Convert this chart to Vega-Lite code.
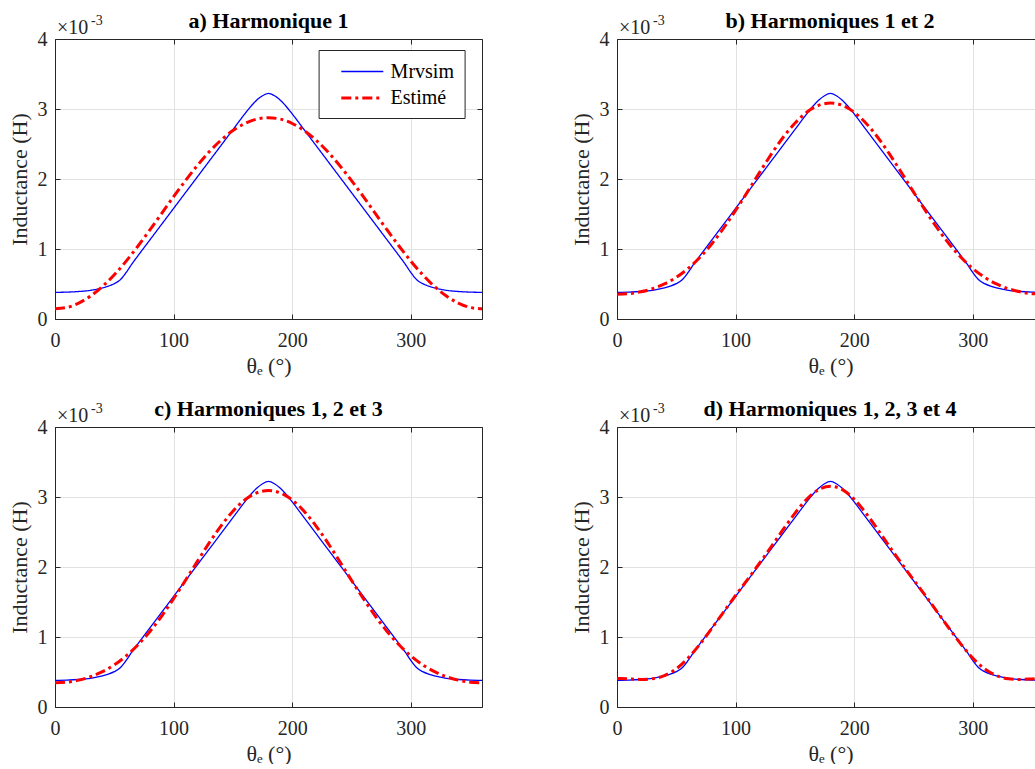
{
  "$schema": "https://vega.github.io/schema/vega-lite/v6.json",
  "autosize": {"type": "pad"},
  "padding": {"left": 8, "top": 10, "right": 0, "bottom": 0},
  "background": "#ffffff",
  "datasets": {
    "mrvsim": [
      {"theta": 0, "L": 0.381}, {"theta": 10, "L": 0.384}, {"theta": 20, "L": 0.393}, {"theta": 30, "L": 0.41},
      {"theta": 40, "L": 0.445}, {"theta": 45, "L": 0.47}, {"theta": 50, "L": 0.505}, {"theta": 55, "L": 0.56},
      {"theta": 60, "L": 0.665}, {"theta": 65, "L": 0.79}, {"theta": 70, "L": 0.905}, {"theta": 80, "L": 1.13},
      {"theta": 90, "L": 1.355}, {"theta": 100, "L": 1.58}, {"theta": 110, "L": 1.805}, {"theta": 120, "L": 2.03},
      {"theta": 130, "L": 2.255}, {"theta": 140, "L": 2.48}, {"theta": 150, "L": 2.705}, {"theta": 160, "L": 2.93},
      {"theta": 165, "L": 3.035}, {"theta": 170, "L": 3.125}, {"theta": 175, "L": 3.19}, {"theta": 180, "L": 3.222},
      {"theta": 185, "L": 3.19}, {"theta": 190, "L": 3.125}, {"theta": 195, "L": 3.035}, {"theta": 200, "L": 2.93},
      {"theta": 210, "L": 2.705}, {"theta": 220, "L": 2.48}, {"theta": 230, "L": 2.255}, {"theta": 240, "L": 2.03},
      {"theta": 250, "L": 1.805}, {"theta": 260, "L": 1.58}, {"theta": 270, "L": 1.355}, {"theta": 280, "L": 1.13},
      {"theta": 290, "L": 0.905}, {"theta": 295, "L": 0.79}, {"theta": 300, "L": 0.665}, {"theta": 305, "L": 0.56},
      {"theta": 310, "L": 0.505}, {"theta": 315, "L": 0.47}, {"theta": 320, "L": 0.445}, {"theta": 330, "L": 0.41},
      {"theta": 340, "L": 0.393}, {"theta": 350, "L": 0.384}, {"theta": 360, "L": 0.381}
    ],
    "estime": [
      {"theta": 0, "a": 0.145, "b": 0.355, "c": 0.347, "d": 0.407},
      {"theta": 10, "a": 0.165, "b": 0.362, "c": 0.355, "d": 0.401},
      {"theta": 20, "a": 0.227, "b": 0.388, "c": 0.384, "d": 0.394},
      {"theta": 30, "a": 0.328, "b": 0.433, "c": 0.433, "d": 0.403},
      {"theta": 40, "a": 0.464, "b": 0.501, "c": 0.505, "d": 0.449},
      {"theta": 50, "a": 0.632, "b": 0.595, "c": 0.602, "d": 0.546},
      {"theta": 60, "a": 0.827, "b": 0.722, "c": 0.73, "d": 0.7},
      {"theta": 70, "a": 1.043, "b": 0.882, "c": 0.889, "d": 0.899},
      {"theta": 80, "a": 1.272, "b": 1.075, "c": 1.079, "d": 1.125},
      {"theta": 90, "a": 1.51, "b": 1.3, "c": 1.3, "d": 1.36},
      {"theta": 100, "a": 1.748, "b": 1.551, "c": 1.547, "d": 1.593},
      {"theta": 110, "a": 1.977, "b": 1.816, "c": 1.809, "d": 1.819},
      {"theta": 120, "a": 2.193, "b": 2.088, "c": 2.08, "d": 2.05},
      {"theta": 130, "a": 2.388, "b": 2.351, "c": 2.344, "d": 2.288},
      {"theta": 140, "a": 2.556, "b": 2.593, "c": 2.589, "d": 2.533},
      {"theta": 150, "a": 2.692, "b": 2.797, "c": 2.797, "d": 2.767},
      {"theta": 160, "a": 2.793, "b": 2.954, "c": 2.958, "d": 2.968},
      {"theta": 170, "a": 2.855, "b": 3.052, "c": 3.059, "d": 3.105},
      {"theta": 180, "a": 2.875, "b": 3.085, "c": 3.093, "d": 3.153},
      {"theta": 190, "a": 2.855, "b": 3.052, "c": 3.059, "d": 3.105},
      {"theta": 200, "a": 2.793, "b": 2.954, "c": 2.958, "d": 2.968},
      {"theta": 210, "a": 2.692, "b": 2.797, "c": 2.797, "d": 2.767},
      {"theta": 220, "a": 2.556, "b": 2.593, "c": 2.589, "d": 2.533},
      {"theta": 230, "a": 2.388, "b": 2.351, "c": 2.344, "d": 2.288},
      {"theta": 240, "a": 2.193, "b": 2.088, "c": 2.08, "d": 2.05},
      {"theta": 250, "a": 1.977, "b": 1.816, "c": 1.809, "d": 1.819},
      {"theta": 260, "a": 1.748, "b": 1.551, "c": 1.547, "d": 1.593},
      {"theta": 270, "a": 1.51, "b": 1.3, "c": 1.3, "d": 1.36},
      {"theta": 280, "a": 1.272, "b": 1.075, "c": 1.079, "d": 1.125},
      {"theta": 290, "a": 1.043, "b": 0.882, "c": 0.889, "d": 0.899},
      {"theta": 300, "a": 0.827, "b": 0.722, "c": 0.73, "d": 0.7},
      {"theta": 310, "a": 0.632, "b": 0.595, "c": 0.602, "d": 0.546},
      {"theta": 320, "a": 0.464, "b": 0.501, "c": 0.505, "d": 0.449},
      {"theta": 330, "a": 0.328, "b": 0.433, "c": 0.433, "d": 0.403},
      {"theta": 340, "a": 0.227, "b": 0.388, "c": 0.384, "d": 0.394},
      {"theta": 350, "a": 0.165, "b": 0.362, "c": 0.355, "d": 0.401},
      {"theta": 360, "a": 0.145, "b": 0.355, "c": 0.347, "d": 0.407}
    ]
  },
  "columns": 2,
  "spacing": {"row": 108, "column": 135},
  "bounds": "flush",
  "resolve": {"scale": {"color": "independent", "strokeDash": "independent", "strokeWidth": "independent"}},
  "concat": [
    {
      "width": 427, "height": 280,
      "title": {"text": "a) Harmonique 1"},
      "resolve": {"axis": {"x": "independent", "y": "independent"}},
      "layer": [
        {
          "data": {"name": "mrvsim"},
          "mark": {"type": "line", "interpolate": "monotone"},
          "encoding": {
            "x": {"field": "theta", "type": "quantitative", "scale": {"domain": [0, 360], "nice": false},
                  "axis": {"orient": "bottom", "values": [0, 100, 200, 300], "grid": true, "labelFlush": false, "title": "θₑ (°)", "labelPadding": 16, "titlePadding": 5}},
            "y": {"field": "L", "type": "quantitative", "scale": {"domain": [0, 4], "nice": false},
                  "axis": {"orient": "left", "values": [0, 1, 2, 3, 4], "grid": true, "title": "Inductance (H)", "labelPadding": 13, "titlePadding": 6}},
            "color": {"datum": "Mrvsim", "type": "nominal", "scale": {"domain": ["Mrvsim", "Estimé"], "range": ["#0000ff", "#ff0000"]},
                      "legend": {"orient": "none", "legendX": 263.6, "legendY": 11, "title": null, "symbolType": "M-2,0L2,0", "symbolSize": 441,
                                 "symbolOffset": 21.7, "labelOffset": 16.3, "labelFont": "Liberation Serif", "labelFontSize": 20, "labelColor": "#000000",
                                 "fillColor": "#ffffff", "strokeColor": "#262626", "padding": 10, "rowPadding": 4}},
            "strokeDash": {"datum": "Mrvsim", "type": "nominal", "scale": {"domain": ["Mrvsim", "Estimé"], "range": [[1, 0], [10, 4, 3, 4]]}},
            "strokeWidth": {"datum": "Mrvsim", "type": "ordinal", "scale": {"domain": ["Mrvsim", "Estimé"], "range": [1.3, 3]}}
          }
        },
        {
          "data": {"name": "estime"},
          "mark": {"type": "line", "interpolate": "natural"},
          "encoding": {
            "x": {"field": "theta", "type": "quantitative", "scale": {"domain": [0, 360], "nice": false},
                  "axis": {"orient": "top", "values": [0, 100, 200, 300], "grid": false, "labels": false, "title": null}},
            "y": {"field": "a", "type": "quantitative", "scale": {"domain": [0, 4], "nice": false},
                  "axis": {"orient": "right", "values": [0, 1, 2, 3, 4], "grid": false, "labels": false, "title": null}},
            "color": {"datum": "Estimé", "type": "nominal"},
            "strokeDash": {"datum": "Estimé", "type": "nominal"},
            "strokeWidth": {"datum": "Estimé", "type": "ordinal"}
          }
        },
        {
          "data": {"values": [{}]},
          "mark": {"type": "text", "align": "left", "baseline": "alphabetic", "fontSize": 20, "font": "Liberation Serif", "color": "#262626", "dx": 2, "dy": -5},
          "encoding": {
            "x": {"datum": 0, "type": "quantitative", "scale": {"domain": [0, 360], "nice": false}, "axis": null},
            "y": {"datum": 4, "type": "quantitative", "scale": {"domain": [0, 4], "nice": false}, "axis": null},
            "text": {"value": "×10"}
          }
        },
        {
          "data": {"values": [{}]},
          "mark": {"type": "text", "align": "left", "baseline": "alphabetic", "fontSize": 14, "font": "Liberation Serif", "color": "#262626", "dx": 36, "dy": -14},
          "encoding": {
            "x": {"datum": 0, "type": "quantitative", "scale": {"domain": [0, 360], "nice": false}, "axis": null},
            "y": {"datum": 4, "type": "quantitative", "scale": {"domain": [0, 4], "nice": false}, "axis": null},
            "text": {"value": "-3"}
          }
        }
      ]
    },
    {
      "width": 418, "height": 280,
      "title": {"text": "b) Harmoniques 1 et 2", "dx": 4},
      "resolve": {"axis": {"x": "independent", "y": "independent"}},
      "layer": [
        {
          "data": {"name": "mrvsim"},
          "mark": {"type": "line", "interpolate": "monotone", "color": "#0000ff", "strokeWidth": 1.3, "clip": true},
          "encoding": {
            "x": {"field": "theta", "type": "quantitative", "scale": {"domain": [0, 352.5], "nice": false},
                  "axis": {"orient": "bottom", "values": [0, 100, 200, 300], "grid": true, "labelFlush": false, "title": "θₑ (°)", "labelPadding": 16, "titlePadding": 5, "titleX": 213.5}},
            "y": {"field": "L", "type": "quantitative", "scale": {"domain": [0, 4], "nice": false},
                  "axis": {"orient": "left", "values": [0, 1, 2, 3, 4], "grid": true, "title": "Inductance (H)", "labelPadding": 13, "titlePadding": 6}}
          }
        },
        {
          "data": {"name": "estime"},
          "mark": {"type": "line", "interpolate": "natural", "color": "#ff0000", "strokeWidth": 3, "strokeDash": [10, 4, 3, 4], "clip": true},
          "encoding": {
            "x": {"field": "theta", "type": "quantitative", "scale": {"domain": [0, 352.5], "nice": false},
                  "axis": {"orient": "top", "values": [0, 100, 200, 300], "grid": false, "labels": false, "title": null}},
            "y": {"field": "b", "type": "quantitative", "scale": {"domain": [0, 4], "nice": false}, "axis": null}
          }
        },
        {
          "data": {"values": [{}]},
          "mark": {"type": "text", "align": "left", "baseline": "alphabetic", "fontSize": 20, "font": "Liberation Serif", "color": "#262626", "dx": 2, "dy": -5},
          "encoding": {
            "x": {"datum": 0, "type": "quantitative", "scale": {"domain": [0, 352.5], "nice": false}, "axis": null},
            "y": {"datum": 4, "type": "quantitative", "scale": {"domain": [0, 4], "nice": false}, "axis": null},
            "text": {"value": "×10"}
          }
        },
        {
          "data": {"values": [{}]},
          "mark": {"type": "text", "align": "left", "baseline": "alphabetic", "fontSize": 14, "font": "Liberation Serif", "color": "#262626", "dx": 36, "dy": -14},
          "encoding": {
            "x": {"datum": 0, "type": "quantitative", "scale": {"domain": [0, 352.5], "nice": false}, "axis": null},
            "y": {"datum": 4, "type": "quantitative", "scale": {"domain": [0, 4], "nice": false}, "axis": null},
            "text": {"value": "-3"}
          }
        }
      ]
    },
    {
      "width": 427, "height": 280,
      "title": {"text": "c) Harmoniques 1, 2 et 3"},
      "resolve": {"axis": {"x": "independent", "y": "independent"}},
      "layer": [
        {
          "data": {"name": "mrvsim"},
          "mark": {"type": "line", "interpolate": "monotone", "color": "#0000ff", "strokeWidth": 1.3},
          "encoding": {
            "x": {"field": "theta", "type": "quantitative", "scale": {"domain": [0, 360], "nice": false},
                  "axis": {"orient": "bottom", "values": [0, 100, 200, 300], "grid": true, "labelFlush": false, "title": "θₑ (°)", "labelPadding": 16, "titlePadding": 5}},
            "y": {"field": "L", "type": "quantitative", "scale": {"domain": [0, 4], "nice": false},
                  "axis": {"orient": "left", "values": [0, 1, 2, 3, 4], "grid": true, "title": "Inductance (H)", "labelPadding": 13, "titlePadding": 6}}
          }
        },
        {
          "data": {"name": "estime"},
          "mark": {"type": "line", "interpolate": "natural", "color": "#ff0000", "strokeWidth": 3, "strokeDash": [10, 4, 3, 4]},
          "encoding": {
            "x": {"field": "theta", "type": "quantitative", "scale": {"domain": [0, 360], "nice": false},
                  "axis": {"orient": "top", "values": [0, 100, 200, 300], "grid": false, "labels": false, "title": null}},
            "y": {"field": "c", "type": "quantitative", "scale": {"domain": [0, 4], "nice": false},
                  "axis": {"orient": "right", "values": [0, 1, 2, 3, 4], "grid": false, "labels": false, "title": null}}
          }
        },
        {
          "data": {"values": [{}]},
          "mark": {"type": "text", "align": "left", "baseline": "alphabetic", "fontSize": 20, "font": "Liberation Serif", "color": "#262626", "dx": 2, "dy": -5},
          "encoding": {
            "x": {"datum": 0, "type": "quantitative", "scale": {"domain": [0, 360], "nice": false}, "axis": null},
            "y": {"datum": 4, "type": "quantitative", "scale": {"domain": [0, 4], "nice": false}, "axis": null},
            "text": {"value": "×10"}
          }
        },
        {
          "data": {"values": [{}]},
          "mark": {"type": "text", "align": "left", "baseline": "alphabetic", "fontSize": 14, "font": "Liberation Serif", "color": "#262626", "dx": 36, "dy": -14},
          "encoding": {
            "x": {"datum": 0, "type": "quantitative", "scale": {"domain": [0, 360], "nice": false}, "axis": null},
            "y": {"datum": 4, "type": "quantitative", "scale": {"domain": [0, 4], "nice": false}, "axis": null},
            "text": {"value": "-3"}
          }
        }
      ]
    },
    {
      "width": 418, "height": 280,
      "title": {"text": "d) Harmoniques 1, 2, 3 et 4", "dx": 4},
      "resolve": {"axis": {"x": "independent", "y": "independent"}},
      "layer": [
        {
          "data": {"name": "mrvsim"},
          "mark": {"type": "line", "interpolate": "monotone", "color": "#0000ff", "strokeWidth": 1.3, "clip": true},
          "encoding": {
            "x": {"field": "theta", "type": "quantitative", "scale": {"domain": [0, 352.5], "nice": false},
                  "axis": {"orient": "bottom", "values": [0, 100, 200, 300], "grid": true, "labelFlush": false, "title": "θₑ (°)", "labelPadding": 16, "titlePadding": 5, "titleX": 213.5}},
            "y": {"field": "L", "type": "quantitative", "scale": {"domain": [0, 4], "nice": false},
                  "axis": {"orient": "left", "values": [0, 1, 2, 3, 4], "grid": true, "title": "Inductance (H)", "labelPadding": 13, "titlePadding": 6}}
          }
        },
        {
          "data": {"name": "estime"},
          "mark": {"type": "line", "interpolate": "natural", "color": "#ff0000", "strokeWidth": 3, "strokeDash": [10, 4, 3, 4], "clip": true},
          "encoding": {
            "x": {"field": "theta", "type": "quantitative", "scale": {"domain": [0, 352.5], "nice": false},
                  "axis": {"orient": "top", "values": [0, 100, 200, 300], "grid": false, "labels": false, "title": null}},
            "y": {"field": "d", "type": "quantitative", "scale": {"domain": [0, 4], "nice": false}, "axis": null}
          }
        },
        {
          "data": {"values": [{}]},
          "mark": {"type": "text", "align": "left", "baseline": "alphabetic", "fontSize": 20, "font": "Liberation Serif", "color": "#262626", "dx": 2, "dy": -5},
          "encoding": {
            "x": {"datum": 0, "type": "quantitative", "scale": {"domain": [0, 352.5], "nice": false}, "axis": null},
            "y": {"datum": 4, "type": "quantitative", "scale": {"domain": [0, 4], "nice": false}, "axis": null},
            "text": {"value": "×10"}
          }
        },
        {
          "data": {"values": [{}]},
          "mark": {"type": "text", "align": "left", "baseline": "alphabetic", "fontSize": 14, "font": "Liberation Serif", "color": "#262626", "dx": 36, "dy": -14},
          "encoding": {
            "x": {"datum": 0, "type": "quantitative", "scale": {"domain": [0, 352.5], "nice": false}, "axis": null},
            "y": {"datum": 4, "type": "quantitative", "scale": {"domain": [0, 4], "nice": false}, "axis": null},
            "text": {"value": "-3"}
          }
        }
      ]
    }
  ],
  "config": {
    "view": {"stroke": null},
    "font": "Liberation Serif",
    "style": {"guide-label": {"font": "Liberation Serif"}, "guide-title": {"font": "Liberation Serif"}},
    "axis": {
      "labelFont": "Liberation Serif", "titleFont": "Liberation Serif", "labelFontSize": 20, "titleFontSize": 22,
      "titleFontWeight": "normal", "labelColor": "#262626", "titleColor": "#262626", "domainColor": "#262626",
      "tickColor": "#262626", "gridColor": "#e2e2e2", "gridWidth": 1, "tickSize": -5, "tickWidth": 1, "domainWidth": 1
    },
    "title": {"font": "Liberation Serif", "fontSize": 22, "fontWeight": "bold", "color": "#000000", "baseline": "alphabetic", "offset": -19}
  }
}
